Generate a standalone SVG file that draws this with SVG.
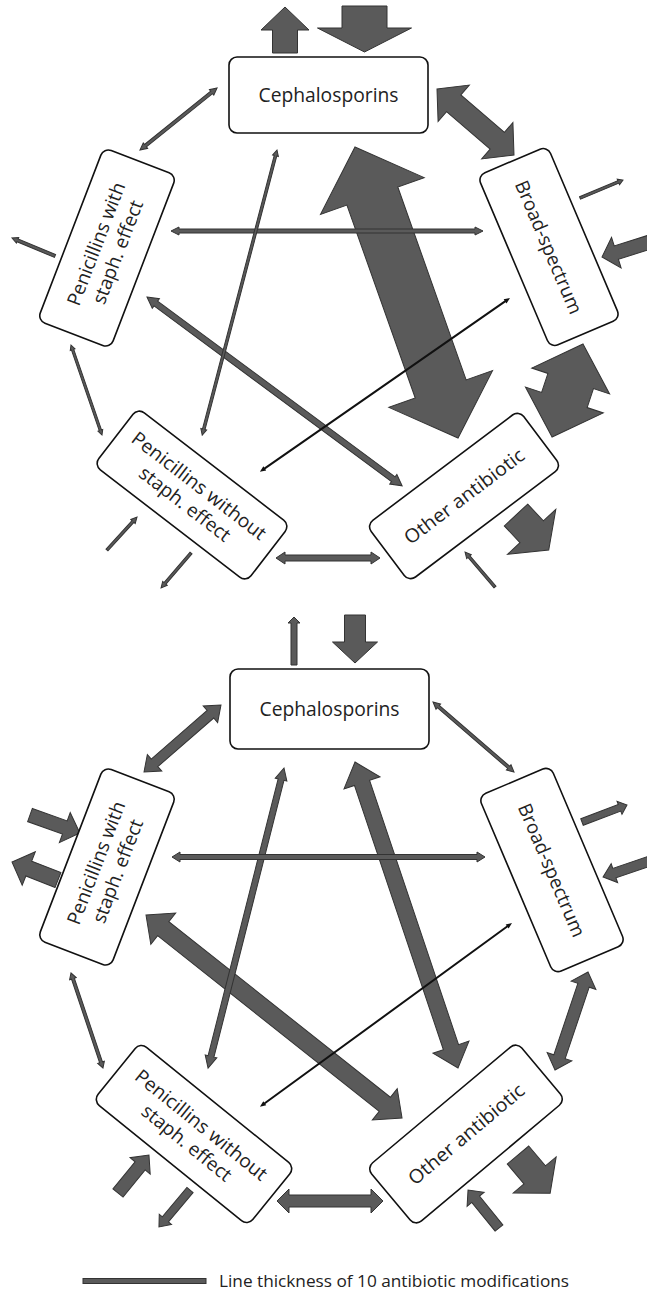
<svg xmlns="http://www.w3.org/2000/svg" width="647" height="1292" viewBox="0 0 647 1292">
<style>
.a{fill:#5a5a5a;stroke:#333;stroke-width:1;stroke-linejoin:miter}
.k{fill:#111;stroke:none}
.box{fill:#fff;stroke:#111;stroke-width:1.6}
.t{font-family:"Open Sans","Lato",sans-serif;fill:#222;text-anchor:middle}
.leg{font-family:"Open Sans","Lato",sans-serif;fill:#222;font-size:16px}
</style>
<rect width="647" height="1292" fill="#fff"/>
<g id="connectors">
<!-- top diagram -->
<polygon class="a" transform="translate(355 147) rotate(70.5)" points="0,0 52,-55 52,-27 256.7,-27 256.7,-55 308.7,0 256.7,55 256.7,27 52,27 52,55"/>
<polygon class="a" transform="translate(583 344) rotate(108.4)" points="0,0 39,-41 39,-24 59,-24 59,-41 98,0 59,41 59,24 39,24 39,41"/>
<polygon class="a" transform="translate(437 89) rotate(40.6)" points="0,0 22,-24 22,-11 79.4,-11 79.4,-24 101.4,0 79.4,24 79.4,11 22,11 22,24"/>
<polygon class="a" transform="translate(285 53) rotate(-90)" points="0,-12.5 23,-12.5 23,-24 46,0 23,24 23,12.5 0,12.5"/>
<polygon class="a" transform="translate(364.5 6) rotate(90)" points="0,-22.5 22,-22.5 22,-47 46,0 22,47 22,22.5 0,22.5"/>
<polygon class="a" transform="translate(516 515) rotate(47)" points="0,-16 23,-16 23,-33 48,0 23,33 23,16 0,16"/>
<polygon class="a" transform="translate(650 242) rotate(162.6)" points="0,-7 35.3,-7 35.3,-16 50.3,0 35.3,16 35.3,7 0,7"/>
<polygon class="a" transform="translate(147 297) rotate(36.5)" points="0,0 11,-6 11,-3 306.4,-3 306.4,-6 317.4,0 306.4,6 306.4,3 11,3 11,6"/>
<polygon class="a" transform="translate(276 558)" points="0,0 9,-6 9,-3 95,-3 95,-6 104,0 95,6 95,3 9,3 9,6"/>
<polygon class="a" transform="translate(171 231)" points="0,0 8,-4 8,-2 304,-2 304,-4 312,0 304,4 304,2 8,2 8,4"/>
<polygon class="a" transform="translate(140 150) rotate(-38.8)" points="0,0 7,-3.5 7,-1.5 91.9,-1.5 91.9,-3.5 98.9,0 91.9,3.5 91.9,1.5 7,1.5 7,3.5"/>
<polygon class="a" transform="translate(277 150) rotate(104.7)" points="0,0 6,-3 6,-1.3 288.7,-1.3 288.7,-3 294.7,0 288.7,3 288.7,1.3 6,1.3 6,3"/>
<polygon class="a" transform="translate(71 345) rotate(71)" points="0,0 5,-2.5 5,-1.2 90.2,-1.2 90.2,-2.5 95.2,0 90.2,2.5 90.2,1.2 5,1.2 5,2.5"/>
<polygon class="k" transform="translate(510 298) rotate(145.2)" points="0,0 6,-2.5 6,-1 298.6,-1 298.6,-2.5 304.6,0 298.6,2.5 298.6,1 6,1 6,2.5"/>
<polygon class="a" transform="translate(55 256) rotate(202.7)" points="0,-1.5 40.6,-1.5 40.6,-3 46.6,0 40.6,3 40.6,1.5 0,1.5"/>
<polygon class="a" transform="translate(580 198) rotate(-22.7)" points="0,-1.3 41.6,-1.3 41.6,-3 46.6,0 41.6,3 41.6,1.3 0,1.3"/>
<polygon class="a" transform="translate(495 587) rotate(229.4)" points="0,-1.3 40,-1.3 40,-3 46,0 40,3 40,1.3 0,1.3"/>
<polygon class="a" transform="translate(107 550) rotate(-47.7)" points="0,-1.3 38.6,-1.3 38.6,-3 44.6,0 38.6,3 38.6,1.3 0,1.3"/>
<polygon class="a" transform="translate(191 553) rotate(130.6)" points="0,-1.3 40,-1.3 40,-3 46,0 40,3 40,1.3 0,1.3"/>
<!-- bottom diagram -->
<polygon class="a" transform="translate(355 762) rotate(71.4)" points="0,0 22,-19 22,-8 300.9,-8 300.9,-19 322.9,0 300.9,19 300.9,8 22,8 22,19"/>
<polygon class="a" transform="translate(146 915) rotate(38.4)" points="0,0 22,-20 22,-9 304.7,-9 304.7,-20 326.7,0 304.7,20 304.7,9 22,9 22,20"/>
<polygon class="a" transform="translate(284 768) rotate(104.2)" points="0,0 12,-6 12,-3 297.5,-3 297.5,-6 309.5,0 297.5,6 297.5,3 12,3 12,6"/>
<polygon class="a" transform="translate(172 857)" points="0,0 8,-5 8,-2.5 305,-2.5 305,-5 313,0 305,5 305,2.5 8,2.5 8,5"/>
<polygon class="k" transform="translate(512 923) rotate(143.9)" points="0,0 6,-2.5 6,-1 306,-1 306,-2.5 312,0 306,2.5 306,1 6,1 6,2.5"/>
<polygon class="a" transform="translate(294 665) rotate(-90)" points="0,-3 42,-3 42,-6 48,0 42,6 42,3 0,3"/>
<polygon class="a" transform="translate(355 615) rotate(90)" points="0,-10.5 27,-10.5 27,-22.5 48,0 27,22.5 27,10.5 0,10.5"/>
<polygon class="a" transform="translate(144 772) rotate(-41)" points="0,0 14,-11 14,-5 88,-5 88,-11 102,0 88,11 88,5 14,5 14,11"/>
<polygon class="a" transform="translate(433 702) rotate(40.8)" points="0,0 7,-3.5 7,-1.5 100,-1.5 100,-3.5 107,0 100,3.5 100,1.5 7,1.5 7,3.5"/>
<polygon class="a" transform="translate(71 973) rotate(71.4)" points="0,0 6,-3.5 6,-1.5 94.2,-1.5 94.2,-3.5 100.2,0 94.2,3.5 94.2,1.5 6,1.5 6,3.5"/>
<polygon class="a" transform="translate(588 972) rotate(108.6)" points="0,0 14,-13 14,-6 89.4,-6 89.4,-13 103.4,0 89.4,13 89.4,6 14,6 14,13"/>
<polygon class="a" transform="translate(277 1201)" points="0,0 12,-12 12,-6 94,-6 94,-12 106,0 94,12 94,6 12,6 12,12"/>
<polygon class="a" transform="translate(30 815) rotate(19.8)" points="0,-7 37,-7 37,-16 53,0 37,16 37,7 0,7"/>
<polygon class="a" transform="translate(58 880) rotate(201.4)" points="0,-8 31.4,-8 31.4,-18 49.4,0 31.4,18 31.4,8 0,8"/>
<polygon class="a" transform="translate(582 822) rotate(-20.7)" points="0,-3.5 40.1,-3.5 40.1,-7 48.1,0 40.1,7 40.1,3.5 0,3.5"/>
<polygon class="a" transform="translate(650 861) rotate(161.2)" points="0,-5 37.6,-5 37.6,-10 49.6,0 37.6,10 37.6,5 0,5"/>
<polygon class="a" transform="translate(518 1155) rotate(50)" points="0,-14 26,-14 26,-28 50,0 26,28 26,14 0,14"/>
<polygon class="a" transform="translate(499 1228) rotate(230.8)" points="0,-5 37,-5 37,-11 49,0 37,11 37,5 0,5"/>
<polygon class="a" transform="translate(118 1193) rotate(-50.8)" points="0,-6.5 35,-6.5 35,-13 49,0 35,13 35,6.5 0,6.5"/>
<polygon class="a" transform="translate(190 1190) rotate(130)" points="0,-4 38.3,-4 38.3,-8 48.3,0 38.3,8 38.3,4 0,4"/>
</g>
<!-- top diagram nodes -->
<g id="ceph-top">
<rect class="box" x="229" y="57" width="199" height="76" rx="8"/>
<text class="t" x="328.5" y="102" font-size="20" textLength="140" lengthAdjust="spacingAndGlyphs">Cephalosporins</text>
</g>
<g id="penwith-top" transform="translate(107 248) rotate(-69)">
<rect class="box" x="-92.5" y="-39" width="185" height="78" rx="8"/>
<text class="t" x="0" y="-5" font-size="19" textLength="130" lengthAdjust="spacingAndGlyphs">Penicillins with</text>
<text class="t" x="0" y="18" font-size="19">staph. effect</text>
</g>
<g id="broad-top" transform="translate(549 247) rotate(67)">
<rect class="box" x="-93.5" y="-38" width="187" height="76" rx="8"/>
<text class="t" x="0" y="7" font-size="19" textLength="143" lengthAdjust="spacingAndGlyphs">Broad-spectrum</text>
</g>
<g id="penwithout-top" transform="translate(192 495) rotate(37.6)">
<rect class="box" x="-96" y="-36" width="192" height="72" rx="8"/>
<text class="t" x="0" y="-5" font-size="19" textLength="164" lengthAdjust="spacingAndGlyphs">Penicillins without</text>
<text class="t" x="0" y="18" font-size="19">staph. effect</text>
</g>
<g id="other-top" transform="translate(464 496) rotate(-37)">
<rect class="box" x="-95.5" y="-35.5" width="191" height="71" rx="8"/>
<text class="t" x="0" y="7" font-size="19" textLength="145" lengthAdjust="spacingAndGlyphs">Other antibiotic</text>
</g>
<!-- bottom diagram nodes -->
<g id="ceph-bottom">
<rect class="box" x="230" y="669" width="199" height="80" rx="8"/>
<text class="t" x="329.5" y="716" font-size="20" textLength="140" lengthAdjust="spacingAndGlyphs">Cephalosporins</text>
</g>
<g id="penwith-bottom" transform="translate(107 867) rotate(-69)">
<rect class="box" x="-92.5" y="-39" width="185" height="78" rx="8"/>
<text class="t" x="0" y="-5" font-size="19" textLength="130" lengthAdjust="spacingAndGlyphs">Penicillins with</text>
<text class="t" x="0" y="18" font-size="19">staph. effect</text>
</g>
<g id="broad-bottom" transform="translate(552 870) rotate(67)">
<rect class="box" x="-96.5" y="-39" width="193" height="78" rx="8"/>
<text class="t" x="0" y="7" font-size="19" textLength="143" lengthAdjust="spacingAndGlyphs">Broad-spectrum</text>
</g>
<g id="penwithout-bottom" transform="translate(194 1134) rotate(39)">
<rect class="box" x="-99.5" y="-37.5" width="199" height="75" rx="8"/>
<text class="t" x="0" y="-5" font-size="19" textLength="164" lengthAdjust="spacingAndGlyphs">Penicillins without</text>
<text class="t" x="0" y="18" font-size="19">staph. effect</text>
</g>
<g id="other-bottom" transform="translate(466 1134) rotate(-40)">
<rect class="box" x="-98" y="-38" width="196" height="76" rx="8"/>
<text class="t" x="0" y="7" font-size="19" textLength="145" lengthAdjust="spacingAndGlyphs">Other antibiotic</text>
</g>
<g id="legend">
<rect class="a" x="83" y="1278.5" width="123" height="5"/>
<text class="leg" x="219" y="1287" textLength="350" lengthAdjust="spacingAndGlyphs">Line thickness of 10 antibiotic modifications</text>
</g>
</svg>
